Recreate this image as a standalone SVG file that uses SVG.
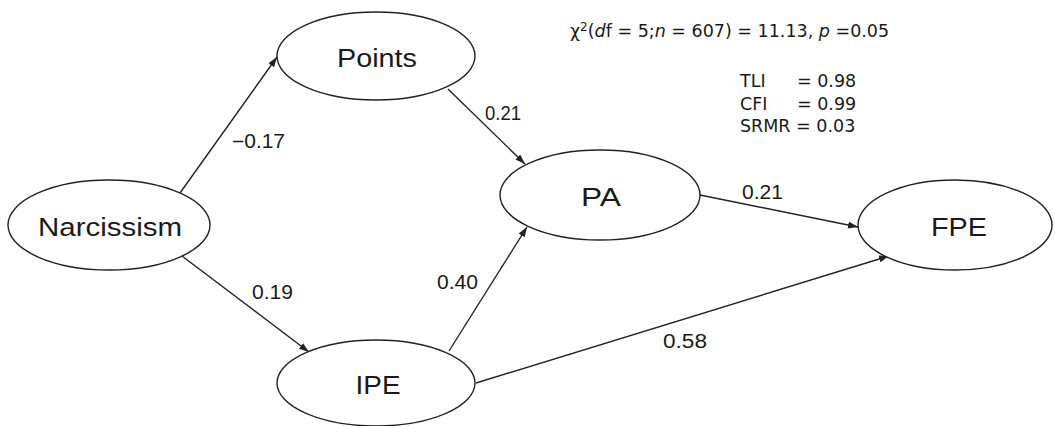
<svg xmlns="http://www.w3.org/2000/svg" width="1055" height="426" viewBox="0 0 1055 426">
<style>
.node ellipse{fill:#fff;stroke:#222;stroke-width:1.4}
.node text{font-family:"Liberation Sans",Arial,sans-serif;font-size:25px;fill:#1a1a1a;text-anchor:middle}
.edge{stroke:#222;stroke-width:1.4;fill:none;marker-end:url(#arr)}
.lbl{font-family:"Liberation Sans",Arial,sans-serif;font-size:19.5px;fill:#1a1a1a}
.stat{font-family:"DejaVu Sans",Verdana,sans-serif;font-size:17.5px;fill:#1a1a1a}
</style>
<defs>
<marker id="arr" markerUnits="userSpaceOnUse" markerWidth="11" markerHeight="8" refX="10" refY="3.5" orient="auto">
<path d="M0,0 L10,3.5 L0,7 z" fill="#222"/>
</marker>
</defs>
<rect width="1055" height="426" fill="#fff"/>
<g id="connectors">
<line class="edge" x1="180" y1="193" x2="277" y2="57"/>
<line class="edge" x1="448" y1="89" x2="525" y2="164"/>
<line class="edge" x1="182" y1="256" x2="309" y2="352"/>
<line class="edge" x1="449" y1="351" x2="527" y2="227"/>
<line class="edge" x1="700" y1="195" x2="858" y2="227"/>
<line class="edge" x1="476" y1="383" x2="889" y2="256"/>
</g>
<g id="labels">
<text class="lbl" x="232" y="148" textLength="53" lengthAdjust="spacingAndGlyphs">−0.17</text>
<text class="lbl" x="485" y="120" textLength="36" lengthAdjust="spacingAndGlyphs">0.21</text>
<text class="lbl" x="252" y="299" textLength="41" lengthAdjust="spacingAndGlyphs">0.19</text>
<text class="lbl" x="437" y="289" textLength="41" lengthAdjust="spacingAndGlyphs">0.40</text>
<text class="lbl" x="742" y="199" textLength="41" lengthAdjust="spacingAndGlyphs">0.21</text>
<text class="lbl" x="663" y="348" textLength="44" lengthAdjust="spacingAndGlyphs">0.58</text>
</g>
<g id="node-narcissism" class="node">
<ellipse cx="109" cy="225" rx="101" ry="45"/>
<text x="110" y="236" textLength="144" lengthAdjust="spacingAndGlyphs">Narcissism</text>
</g>
<g id="node-points" class="node">
<ellipse cx="376" cy="56" rx="99" ry="44"/>
<text x="377" y="67" textLength="80" lengthAdjust="spacingAndGlyphs">Points</text>
</g>
<g id="node-ipe" class="node">
<ellipse cx="376" cy="383" rx="99" ry="43"/>
<text x="378" y="394" textLength="45" lengthAdjust="spacingAndGlyphs">IPE</text>
</g>
<g id="node-pa" class="node">
<ellipse cx="600" cy="195" rx="100" ry="45"/>
<text x="601" y="206" textLength="40" lengthAdjust="spacingAndGlyphs">PA</text>
</g>
<g id="node-fpe" class="node">
<ellipse cx="955" cy="225" rx="97" ry="45"/>
<text x="959" y="236" textLength="56" lengthAdjust="spacingAndGlyphs">FPE</text>
</g>
<g id="stats">
<text class="stat" x="570" y="37">χ<tspan font-size="12" dy="-6">2</tspan><tspan dy="6">(</tspan><tspan font-style="italic">d</tspan>f = 5;<tspan font-style="italic">n</tspan> = 607) = 11.13, <tspan font-style="italic">p</tspan> =0.05</text>
<text class="stat" x="740" y="87">TLI</text><text class="stat" x="797" y="87">= 0.98</text>
<text class="stat" x="740" y="110">CFI</text><text class="stat" x="797" y="110">= 0.99</text>
<text class="stat" x="740" y="132">SRMR = 0.03</text>
</g>
</svg>
